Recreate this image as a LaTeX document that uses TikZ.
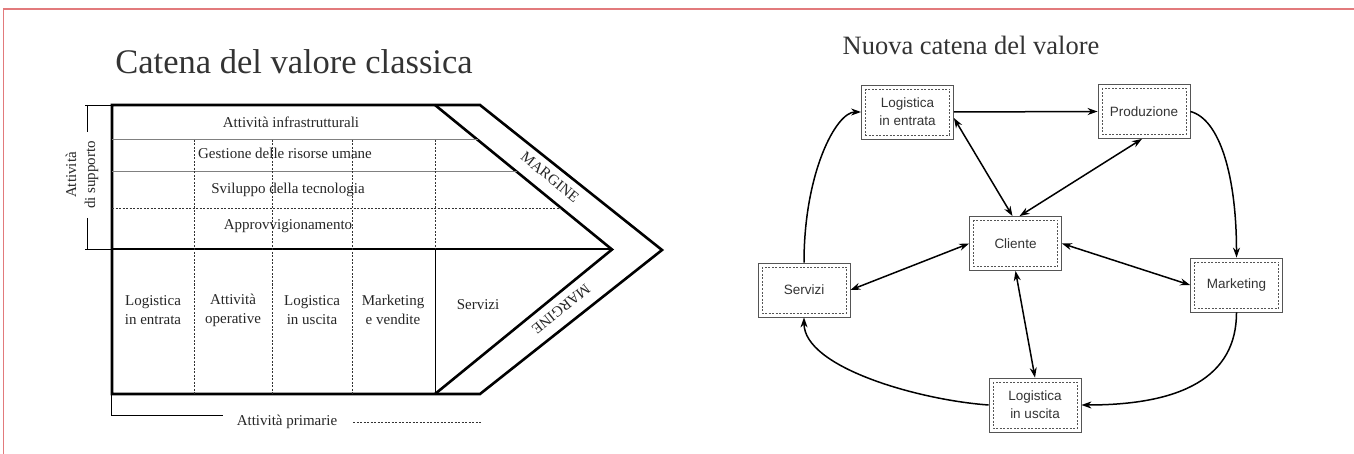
\documentclass[tikz,border=0pt]{standalone}
\usepackage{fontspec}
\setmainfont{Liberation Serif}
\newfontfamily\boxfont{Liberation Sans}
\usetikzlibrary{arrows.meta}

\definecolor{framered}{RGB}{226,122,124}
\definecolor{linegray}{RGB}{85,85,85}

\tikzset{
  chainlabel/.style={font=\fontsize{15}{19}\selectfont, align=center, text=black!85, inner sep=1pt},
  marginlabel/.style={font=\fontsize{15}{18}\selectfont, text=black!85, inner sep=0pt},
  valbox/.style={draw=linegray, line width=0.8pt, minimum width=92pt, minimum height=54pt,
    align=center, inner sep=0pt, text=black!80, font=\boxfont\fontsize{13.5}{18}\selectfont,
    path picture={\draw[linegray, line width=0.6pt, dash pattern=on 2pt off 1.5pt]
      ([shift={(4pt,-4pt)}]path picture bounding box.north west) rectangle
      ([shift={(-4pt,4pt)}]path picture bounding box.south east);}},
  flow/.style={line width=1.5pt, -{Stealth[length=10pt,width=7pt]}},
  link/.style={line width=1.5pt, {Stealth[length=10pt,width=7pt]}-{Stealth[length=10pt,width=7pt]}},
  thinrule/.style={gray, line width=1pt},
  dotrule/.style={black!80, line width=0.8pt, dash pattern=on 2pt off 1.5pt},
}

\begin{document}
\begin{tikzpicture}[x=1pt, y=-1pt]
  \useasboundingbox (0,0) rectangle (1354,454);

  % Frame
  \draw[framered, line width=2pt] (3,9) -- (1354,9);
  \draw[framered, line width=1pt] (3,9) -- (3,454);

  % Titles
  \node[font=\fontsize{34.5}{38}\selectfont, text=black!80] (lefttitle) at (294,62) {Catena del valore classica};
  \node[font=\fontsize{26.5}{30}\selectfont, text=black!80] (righttitle) at (971,45) {Nuova catena del valore};

  % Classic chain: outline and margin band
  \draw[line width=2.6pt, line join=miter] (112,105) -- (480,105) -- (662,250) -- (480,394) -- (112,394) -- cycle;
  \draw[line width=2.6pt] (435,105) -- (612,249.5) -- (435,394);
  \draw[line width=2.6pt] (112,249) -- (612,249); % support / primary divide

  % Support rows
  \draw[thinrule] (112,140) -- (478,140);
  \draw[thinrule] (112,172) -- (517,172);
  \draw[dotrule] (112,208) -- (561,208);

  % Columns
  \foreach \x in {194,272,352} {
    \draw[dotrule] (\x,140) -- (\x,394);
  }
  \draw[dotrule] (435,140) -- (435,249);
  \draw[line width=1pt] (435,249) -- (435,394);

  % Brackets
  \draw[line width=0.8pt] (85,105) -- (112,105);
  \draw[line width=0.8pt] (87,105) -- (87,132);
  \draw[line width=0.8pt] (87,218) -- (87,249);
  \draw[line width=0.8pt] (85,249) -- (112,249);
  \draw[line width=0.8pt] (111,394) -- (111,415) -- (223,415);
  \draw[dotrule] (353,422) -- (482,422);

  % Labels of the classic chain
  \node[chainlabel] (infra) at (291,122) {Attività infrastrutturali};
  \node[chainlabel] (risorse) at (285,153) {Gestione delle risorse umane};
  \node[chainlabel] (tecno) at (288,190) {Sviluppo della tecnologia};
  \node[chainlabel] (approv) at (288,226) {Approvvigionamento};
  \node[chainlabel] (login) at (153,310) {Logistica\\in entrata};
  \node[chainlabel] (oper) at (233,310) {Attività\\operative};
  \node[chainlabel] (logout) at (312,310) {Logistica\\in uscita};
  \node[chainlabel] (mkt) at (393,310) {Marketing\\e vendite};
  \node[chainlabel] (servizi) at (478,305) {Servizi};
  \node[chainlabel, rotate=90] (supporto) at (82,175) {Attività\\di supporto};
  \node[chainlabel] (primarie) at (287,422) {Attività primarie};
  \node[marginlabel, rotate=-39.2] (margtop) at (550,177) {MARGINE};
  \node[marginlabel, rotate=-140.9] (margbot) at (561,309) {MARGINE};

  % New chain: boxes
  \node[valbox] (lin) at (907.5,112) {Logistica\\in entrata};
  \node[valbox] (prod) at (1144,111.5) {Produzione};
  \node[valbox] (cli) at (1015.5,243.5) {Cliente};
  \node[valbox] (serv) at (804,290) {Servizi};
  \node[valbox] (mark) at (1236.5,285) {Marketing};
  \node[valbox] (lout) at (1035,405) {Logistica\\in uscita};

  % New chain: connectors
  \draw[flow] (lin.east) -- (prod.west);
  \draw[link] ([yshift=-6pt]lin.east) -- ([xshift=-3pt]cli.north);
  \draw[link] ([xshift=4pt]cli.north) -- ([xshift=-2pt]prod.south);
  \draw[flow] (prod.east) .. controls +(30,8) and +(0,-80) .. (mark.north);
  \draw[link] (cli.east) -- (mark.west);
  \draw[link] (cli.west) -- (serv.east);
  \draw[link] (cli.south) -- (lout.north);
  \draw[flow] (mark.south) .. controls +(0,65) and +(100,0) .. (lout.east);
  \draw[flow] (lout.west) .. controls +(-70,-5) and +(0,50) .. (serv.south);
  \draw[flow] (serv.north) .. controls +(0,-90) and +(-25,0) .. (lin.west);
\end{tikzpicture}
\end{document}
